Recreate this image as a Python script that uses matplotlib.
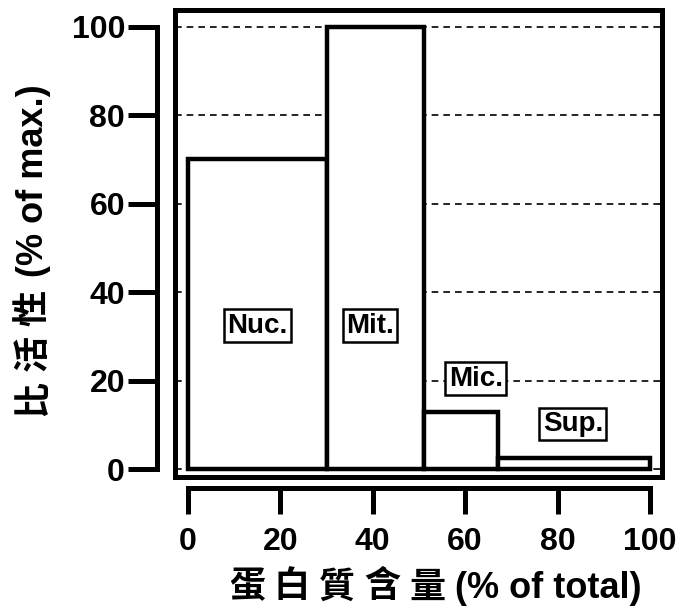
import matplotlib.pyplot as plt
from matplotlib.patches import Rectangle

# 数据
edges = [0, 30, 51, 67, 100]
heights = [70, 100, 13, 2.5]
names = ["Nuc.", "Mit.", "Mic.", "Sup."]
label_x = [15.0, 39.4, 62.3, 83.3]
label_y = [32.4, 32.4, 20.4, 10.2]
ticks = [0, 20, 40, 60, 80, 100]

xlabel_cjk = "蛋白質含量"
xlabel_lat = "(% of total)"
ylabel_cjk = "比活性"
ylabel_lat = "(% of max.)"

fonts = ["Liberation Sans", "Noto Sans CJK TC"]
plt.rcParams["font.family"] = fonts
plt.rcParams["font.weight"] = "bold"

W, H = 697, 613
fig = plt.figure(figsize=(W / 100, H / 100), dpi=100)
ax = fig.add_axes([175 / W, 1 - 477 / H, 487 / W, 467 / H])
ax.set_xlim(-2.81, 102.6)
ax.set_ylim(-1.8, 103.8)

lefts = edges[:-1]
widths = [edges[i + 1] - edges[i] for i in range(len(heights))]
ax.bar(lefts, heights, width=widths, align="edge", facecolor="white",
       edgecolor="black", linewidth=3.2, zorder=2)

ax.yaxis.grid(True, linestyle=(0, (4, 3)), color="black", linewidth=1.2)
ax.set_axisbelow(True)

for n, x, y in zip(names, label_x, label_y):
    ax.text(x, y, n, ha="center", va="center", fontsize=20, fontweight="bold",
            zorder=6, bbox=dict(boxstyle="square,pad=0.12", fc="white",
                                ec="black", lw=1.8))

# 外框
ax.add_patch(Rectangle((0, 0), 1, 1, transform=ax.transAxes, fill=False,
                       linewidth=3.6, edgecolor="black", clip_on=False, zorder=5))

for s in ["top", "right"]:
    ax.spines[s].set_visible(False)
ax.spines["left"].set_position(("outward", 13))
ax.spines["bottom"].set_position(("outward", 8))
ax.spines["left"].set_bounds(0, 100)
ax.spines["bottom"].set_bounds(0, 100)
for s in ["left", "bottom"]:
    ax.spines[s].set_linewidth(3.6)

ax.set_xticks(ticks)
ax.set_yticks(ticks)
ax.tick_params(axis="y", direction="out", length=21, width=3.6, pad=2,
               labelsize=23)
ax.tick_params(axis="x", direction="out", length=19, width=3.6, pad=9,
               labelsize=23)
for lab in ax.get_xticklabels() + ax.get_yticklabels():
    lab.set_fontweight("bold")

# 轴标题 (中文字符间距较宽)
pitch = 45
for i, ch in enumerate(xlabel_cjk):
    fig.text((247 + i * pitch) / W, 1 - 588 / H, ch, ha="center", va="center",
             fontsize=26, fontweight="bold")
fig.text(455 / W, 1 - 588 / H, xlabel_lat, ha="left", va="center",
         fontsize=26, fontweight="bold")

for i, ch in enumerate(ylabel_cjk):
    fig.text(34 / W, 1 - (398 - i * pitch) / H, ch, ha="center", va="center",
             rotation=90, fontsize=26, fontweight="bold")
fig.text(34 / W, 1 - 277 / H, ylabel_lat, ha="center", va="bottom",
         rotation=90, fontsize=26, fontweight="bold")

plt.savefig("out.png", dpi=100)
